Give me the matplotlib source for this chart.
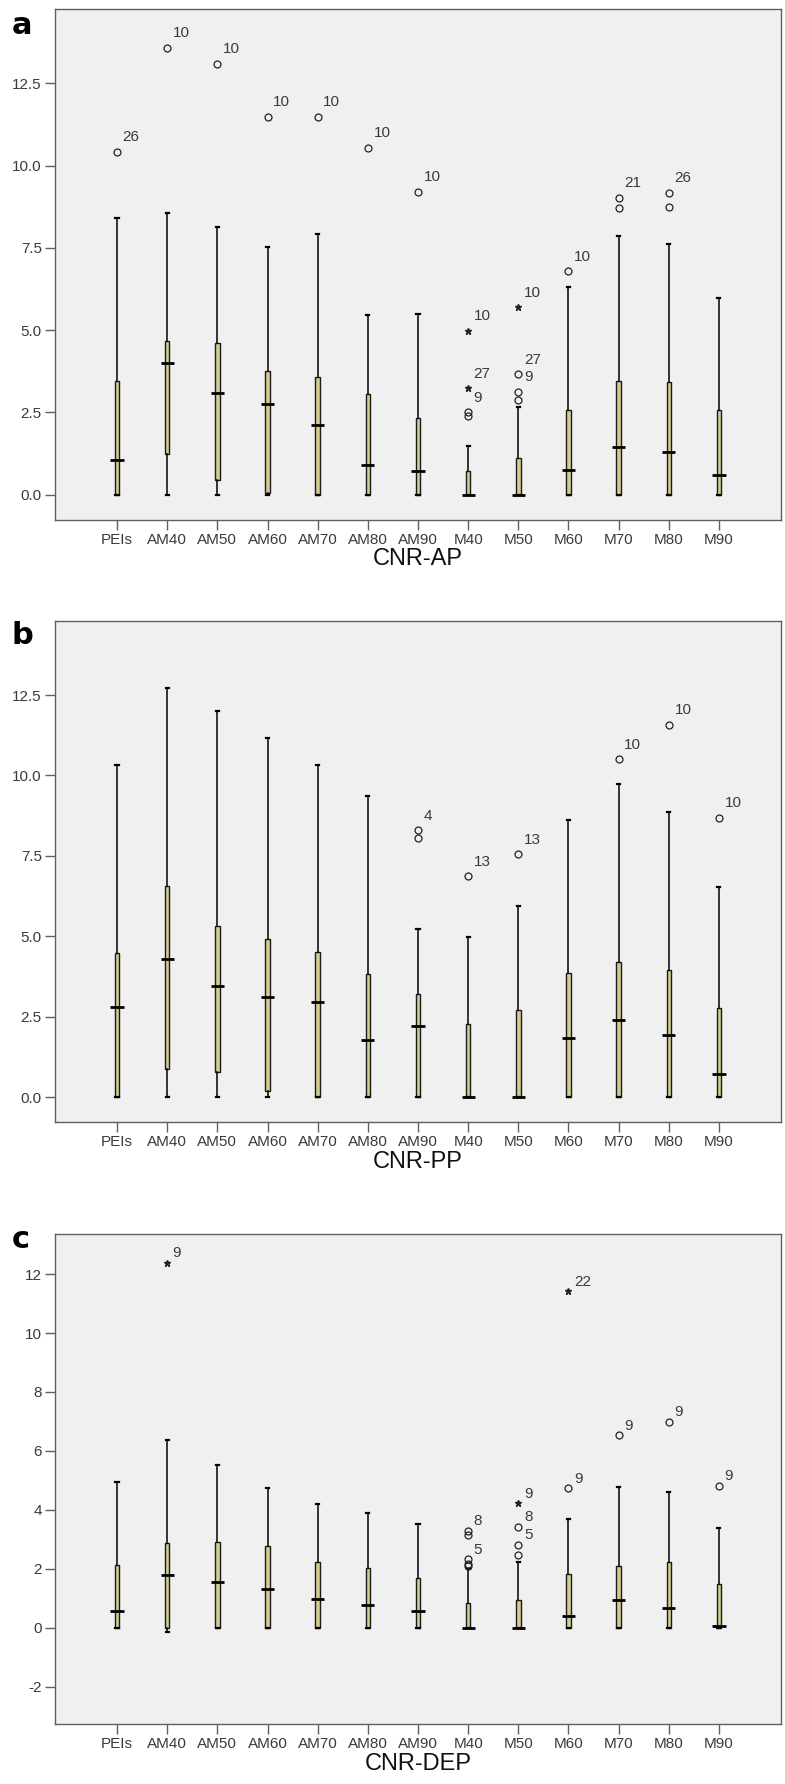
import numpy as np
import matplotlib
matplotlib.use("Agg")
from matplotlib import pyplot as plt
from matplotlib.ticker import FormatStrFormatter

plt.rcParams['font.family'] = ['Liberation Sans', 'DejaVu Sans']

cats = ["PEIs", "AM40", "AM50", "AM60", "AM70", "AM80", "AM90",
        "M40", "M50", "M60", "M70", "M80", "M90"]

# a: CNR-AP
ap_lo = [0, 0, 0, 0, 0, 0, 0, 0, 0, 0, 0, 0, 0]
ap_q1 = [0, 1.24, 0.44, 0.05, 0, 0, 0, 0, 0, 0, 0, 0, 0]
ap_med = [1.05, 4.0, 3.10, 2.74, 2.1, 0.91, 0.72, 0, 0, 0.76, 1.45, 1.30, 0.6]
ap_q3 = [3.45, 4.68, 4.62, 3.75, 3.57, 3.07, 2.32, 0.72, 1.12, 2.56, 3.45, 3.41, 2.56]
ap_hi = [8.42, 8.57, 8.14, 7.53, 7.92, 5.47, 5.49, 1.47, 2.67, 6.32, 7.85, 7.62, 5.98]
ap_circles = [[10.42], [13.57], [13.1], [11.48], [11.48], [10.54], [9.2],
              [2.4, 2.5], [2.86, 3.13, 3.65], [6.79], [8.72, 9.02], [8.73, 9.18], []]
ap_stars = [[], [], [], [], [], [], [], [3.23, 4.98], [5.69], [], [], [], []]
ap_labels = [("PEIs", 10.42, "26"), ("AM40", 13.57, "10"), ("AM50", 13.1, "10"),
             ("AM60", 11.48, "10"), ("AM70", 11.48, "10"), ("AM80", 10.54, "10"),
             ("AM90", 9.2, "10"), ("M40", 4.98, "10"), ("M40", 3.23, "27"),
             ("M40", 2.5, "9"), ("M50", 5.69, "10"), ("M50", 3.65, "27"),
             ("M50", 3.13, "9"), ("M60", 6.79, "10"), ("M70", 9.02, "21"),
             ("M80", 9.18, "26")]

# b: CNR-PP
pp_lo = [0, 0, 0, 0, 0, 0, 0, 0, 0, 0, 0, 0, 0]
pp_q1 = [0, 0.89, 0.78, 0.18, 0, 0, 0, 0, 0, 0, 0, 0, 0]
pp_med = [2.79, 4.30, 3.45, 3.12, 2.96, 1.79, 2.2, 0, 0, 1.84, 2.4, 1.92, 0.73]
pp_q3 = [4.47, 6.57, 5.33, 4.93, 4.5, 3.82, 3.22, 2.28, 2.72, 3.85, 4.19, 3.96, 2.78]
pp_hi = [10.31, 12.71, 12.0, 11.15, 10.31, 9.35, 5.22, 4.98, 5.94, 8.6, 9.72, 8.85, 6.52]
pp_circles = [[], [], [], [], [], [], [8.05, 8.3], [6.86], [7.55], [], [10.5], [11.58], [8.68]]
pp_stars = [[] for _ in cats]
pp_labels = [("AM90", 8.3, "4"), ("M40", 6.86, "13"), ("M50", 7.55, "13"),
             ("M70", 10.5, "10"), ("M80", 11.58, "10"), ("M90", 8.68, "10")]

# c: CNR-DEP
dep_lo = [0, -0.15, 0, 0, 0, 0, 0, 0, 0, 0, 0, 0, 0]
dep_q1 = [0, 0, 0, 0, 0, 0, 0, 0, 0, 0, 0, 0, 0]
dep_med = [0.55, 1.77, 1.55, 1.31, 0.97, 0.76, 0.58, 0, 0, 0.41, 0.92, 0.68, 0.06]
dep_q3 = [2.14, 2.88, 2.9, 2.78, 2.23, 2.03, 1.69, 0.85, 0.95, 1.82, 2.08, 2.23, 1.47]
dep_hi = [4.93, 6.38, 5.51, 4.73, 4.2, 3.89, 3.53, 2.0, 2.23, 3.69, 4.77, 4.61, 3.39]
dep_circles = [[], [], [], [], [], [], [], [2.1, 2.15, 2.32, 3.15, 3.28],
               [2.47, 2.8, 3.43], [4.73], [6.53], [6.99], [4.8]]
dep_stars = [[], [12.39], [], [], [], [], [], [], [4.22], [11.42], [], [], []]
dep_labels = [("AM40", 12.39, "9"), ("M40", 3.28, "8"), ("M40", 2.32, "5"),
              ("M50", 4.22, "9"), ("M50", 3.43, "8"), ("M50", 2.8, "5"),
              ("M60", 11.42, "22"), ("M60", 4.73, "9"), ("M70", 6.53, "9"),
              ("M80", 6.99, "9"), ("M90", 4.8, "9")]

BG = "#f0f0f0"
BOX = "#d3cd90"
FRAME = "#606060"
TXT = "#3a3a3a"


def draw_panel(ax, lo, q1, med, q3, hi, circles, stars, labels,
               xlabel, ylim, yticks, fmt, lab_dy):
    pos = np.arange(len(cats))
    stats = []
    for i in range(len(cats)):
        stats.append(dict(whislo=lo[i], q1=q1[i], med=med[i], q3=q3[i],
                          whishi=hi[i], fliers=circles[i]))
    ax.bxp(stats, positions=pos, widths=0.09, capwidths=0.06,
           patch_artist=True, showfliers=True,
           boxprops=dict(facecolor=BOX, edgecolor="#1a1a1a", linewidth=1.0),
           whiskerprops=dict(color="black", linewidth=1.1),
           capprops=dict(color="black", linewidth=1.6),
           medianprops=dict(linewidth=0),
           flierprops=dict(marker="o", markerfacecolor="none",
                           markeredgecolor="#222222", markersize=5,
                           markeredgewidth=0.9))
    ax.hlines(med, pos - 0.13, pos + 0.13, color="black", linewidth=2.0, zorder=5)
    # extreme values drawn as small stars
    for i, vals in enumerate(stars):
        if vals:
            ax.plot([pos[i]] * len(vals), vals, linestyle="none", marker="*",
                    color="#222222", markersize=4.5)
    for cat, val, txt in labels:
        ax.annotate(txt, (cats.index(cat), val), xytext=(4, lab_dy),
                    textcoords="offset points", ha="left", va="center",
                    fontsize=11, color=TXT)
    ax.set_facecolor(BG)
    ax.set_xlim(-1.236, 13.236)
    ax.set_ylim(*ylim)
    ax.set_xticks(pos)
    ax.set_xticklabels(cats)
    ax.set_yticks(yticks)
    ax.yaxis.set_major_formatter(FormatStrFormatter(fmt))
    ax.tick_params(axis="both", direction="out", length=7.5, width=1,
                   color=FRAME, labelsize=11, labelcolor=TXT, pad=2)
    for sp in ax.spines.values():
        sp.set_color(FRAME)
        sp.set_linewidth(1.0)
    ax.set_xlabel(xlabel, fontsize=17, color="#111111", labelpad=1)


fig = plt.figure(figsize=(7.85, 17.84), dpi=100)
left, width = 55 / 785, 726 / 785
H = 1784
ax_a = fig.add_axes([left, 1 - 519.6 / H, width, (519.6 - 8.9) / H])
ax_b = fig.add_axes([left, 1 - 1122 / H, width, (1122 - 621) / H])
ax_c = fig.add_axes([left, 1 - 1724.2 / H, width, (1724.2 - 1234.4) / H])

draw_panel(ax_a, ap_lo, ap_q1, ap_med, ap_q3, ap_hi, ap_circles, ap_stars,
           ap_labels, "CNR-AP", (-0.76, 14.76), np.arange(0, 13, 2.5), "%.1f", 10.5)
draw_panel(ax_b, pp_lo, pp_q1, pp_med, pp_q3, pp_hi, pp_circles, pp_stars,
           pp_labels, "CNR-PP", (-0.77, 14.8), np.arange(0, 13, 2.5), "%.1f", 10.5)
draw_panel(ax_c, dep_lo, dep_q1, dep_med, dep_q3, dep_hi, dep_circles, dep_stars,
           dep_labels, "CNR-DEP", (-3.28, 13.35), np.arange(-2, 13, 2), "%d", 7)

for letter, ybase in [("a", 34), ("b", 644), ("c", 1248)]:
    fig.text(12 / 785, 1 - ybase / H, letter, fontsize=22, fontweight="bold",
             family="DejaVu Sans", va="baseline", ha="left", color="black")

fig.savefig("out.png", dpi=100, facecolor="white")
